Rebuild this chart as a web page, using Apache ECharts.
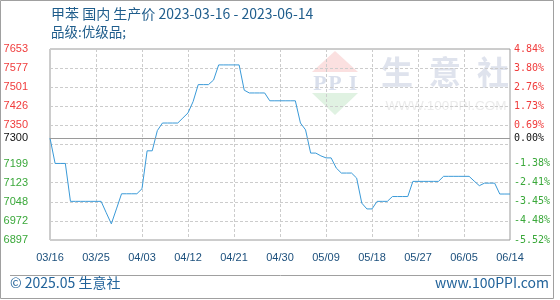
<!DOCTYPE html>
<html>
<head>
<meta charset="utf-8">
<script src="https://cdn.jsdelivr.net/npm/echarts@6/dist/echarts.min.js"></script>
<style>
html,body{margin:0;padding:0;background:#fff;}
#c{width:560px;height:300px;}
</style>
</head>
<body>
<div id="c"></div>
<script>
// ---- data ----
var dates = [
 '03/16','03/17','03/18','03/19','03/20','03/21','03/22','03/23','03/24','03/25','03/26','03/27','03/28','03/29','03/30','03/31',
 '04/01','04/02','04/03','04/04','04/05','04/06','04/07','04/08','04/09','04/10','04/11','04/12','04/13','04/14','04/15','04/16','04/17','04/18','04/19','04/20','04/21','04/22','04/23','04/24','04/25','04/26','04/27','04/28','04/29','04/30',
 '05/01','05/02','05/03','05/04','05/05','05/06','05/07','05/08','05/09','05/10','05/11','05/12','05/13','05/14','05/15','05/16','05/17','05/18','05/19','05/20','05/21','05/22','05/23','05/24','05/25','05/26','05/27','05/28','05/29','05/30','05/31',
 '06/01','06/02','06/03','06/04','06/05','06/06','06/07','06/08','06/09','06/10','06/11','06/12','06/13','06/14'
];
var prices = [
 7300,7200,7200,7200,7050,7050,7050,7050,7050,7050,7050,7005,6961,7020,7080,7080,
 7080,7080,7100,7250,7250,7330,7360,7360,7360,7360,7380,7400,7445,7512,7512,7512,7530,7590,7590,7590,7590,7590,7490,7479,7479,7479,7479,7448,7448,7448,
 7448,7448,7448,7360,7333,7241,7241,7230,7222,7222,7182,7162,7162,7162,7142,7043,7020,7020,7050,7050,7050,7069,7069,7069,7069,7129,7129,7129,7129,7129,7129,
 7149,7149,7149,7149,7149,7149,7130,7112,7122,7122,7122,7079,7079,7079
];
var basePrice = 7300;
var yMin = 6897, yMax = 7653;
var yTickValues = [6897, 6972.6, 7048.2, 7123.8, 7199.4, 7300, 7350.6, 7426.2, 7501.8, 7577.4, 7653];
var yTickLabels = ['6897','6972','7048','7123','7199','7300','7350','7426','7501','7577','7653'];
var pctTickLabels = ['-5.52%','-4.48%','-3.45%','-2.41%','-1.38%','0.00%','0.69%','1.73%','2.76%','3.80%','4.84%'];
var titleText = '甲苯 国内 生产价 2023-03-16 - 2023-06-14';
var subTitleText = '品级:优级品;';
var footLeft = '© 2025.05 生意社';
var footRight = 'www.100PPI.com';

function idxOf(v){
  var best = 0, d = 1e9;
  for (var i = 0; i < yTickValues.length; i++) {
    var dd = Math.abs(yTickValues[i] - v);
    if (dd < d) { d = dd; best = i; }
  }
  return best;
}
function labColor(v){
  if (Math.abs(v - basePrice) < 0.5) return '#111';
  return v > basePrice ? '#f03c3c' : '#3aa83a';
}

var chart = echarts.init(document.getElementById('c'), null, {renderer:'canvas'});
var blue = '#1f5d8c';
var wmFont = 'bold 32px "Noto Sans CJK SC"';
var ppiFont = 'bold 22px "Liberation Serif"';
chart.setOption({
  animation: false,
  backgroundColor: '#fff',
  grid: {left: 50, right: 50, top: 49, bottom: 60, show: true, borderColor: '#9a9a9a', borderWidth: 1, containLabel: false},
  graphic: [
    {type:'rect', z:-20, shape:{x:0.5,y:0.5,width:553,height:298}, style:{fill:'none', stroke:'#a0a0a0', lineWidth:1}},
    {type:'line', z:-20, shape:{x1:10,y1:275.5,x2:551,y2:275.5}, style:{stroke:'#a0a0a0', lineWidth:1}},
    {type:'text', left: 51, top: 7, style:{text:titleText, fill: blue, font:'14px "Noto Sans CJK SC"'}},
    {type:'text', left: 51, top: 25, style:{text:subTitleText, fill: blue, font:'13.5px "Noto Sans CJK SC"'}},
    {type:'text', left: 10, top: 276, style:{text:footLeft, fill: '#22639a', font:'14px "Noto Sans CJK SC"'}},
    {type:'text', right: 11, top: 276, style:{text:footRight, fill: '#22639a', font:'14px "Noto Sans CJK SC"'}},
    // watermark
    {type:'polygon', z:-10, shape:{points:[[335,51],[312,72],[358,72]]}, style:{fill:'#fbe0e0'}},
    {type:'polygon', z:-10, shape:{points:[[312,93],[358,93],[335,115]]}, style:{fill:'#e0f2e2'}},
    {type:'text', z:-10, x:320, y:84, style:{text:'P', fill:'#d9dfec', font:ppiFont, align:'center', verticalAlign:'middle'}},
    {type:'text', z:-10, x:335, y:84, style:{text:'P', fill:'#d9dfec', font:ppiFont, align:'center', verticalAlign:'middle'}},
    {type:'text', z:-10, x:353, y:84, style:{text:'I', fill:'#d9dfec', font:ppiFont, align:'center', verticalAlign:'middle'}},
    {type:'text', z:-10, x:397, y:72, style:{text:'生', fill:'#dfe3ed', font:wmFont, align:'center', verticalAlign:'middle'}},
    {type:'text', z:-10, x:445, y:72, style:{text:'意', fill:'#dfe3ed', font:wmFont, align:'center', verticalAlign:'middle'}},
    {type:'text', z:-10, x:493, y:72, style:{text:'社', fill:'#dfe3ed', font:wmFont, align:'center', verticalAlign:'middle'}},
    {type:'text', z:-10, x:446, y:106, style:{text:'WWW.100PPI.COM', fill:'#ebebeb', font:'13.5px "Liberation Sans"', align:'center', verticalAlign:'middle'}}
  ],
  xAxis: {
    type: 'category', data: dates, boundaryGap: false,
    axisLine: {show: false}, axisTick: {show: false},
    axisLabel: {interval: 8, color: '#1b4f7c', fontSize: 11, fontFamily: 'Liberation Sans', margin: 12},
    splitLine: {show: true, interval: 8, lineStyle: {color: '#cccccc', type: [3,2], width: 1}}
  },
  yAxis: [
    {
      type: 'value', min: yMin, max: yMax, position: 'left',
      axisLine: {show: false}, axisTick: {show: false, customValues: yTickValues}, splitLine: {show: false},
      axisLabel: {customValues: yTickValues, margin: 22, fontSize: 11, fontFamily: 'Liberation Sans',
        formatter: function(v){ return yTickLabels[idxOf(v)]; },
        color: function(v){ return labColor(v); } }
    },
    {
      type: 'value', min: yMin, max: yMax, position: 'right',
      axisLine: {show: false}, axisTick: {show: false, customValues: yTickValues}, splitLine: {show: false},
      axisLabel: {customValues: yTickValues, margin: 4, fontSize: 10, fontFamily: 'DejaVu Sans Mono',
        formatter: function(v){ return pctTickLabels[idxOf(v)]; },
        color: function(v){ return labColor(v); } }
    },
    {
      type: 'value', min: 0, max: 10, interval: 1, position: 'left',
      axisLine: {show: false}, axisTick: {show: false}, axisLabel: {show: false},
      splitLine: {show: true, lineStyle: {color: '#cccccc', type: [3,2], width: 1}}
    }
  ],
  series: [{
    type: 'line', data: prices, yAxisIndex: 0, symbol: 'none', smooth: false,
    lineStyle: {color: '#3a9ad8', width: 1},
    markLine: {silent: true, symbol: 'none', label: {show: false},
      lineStyle: {color: '#9a9a9a', type: 'solid', width: 1.2},
      data: [{yAxis: basePrice}]}
  }]
});
</script>
</body>
</html>
